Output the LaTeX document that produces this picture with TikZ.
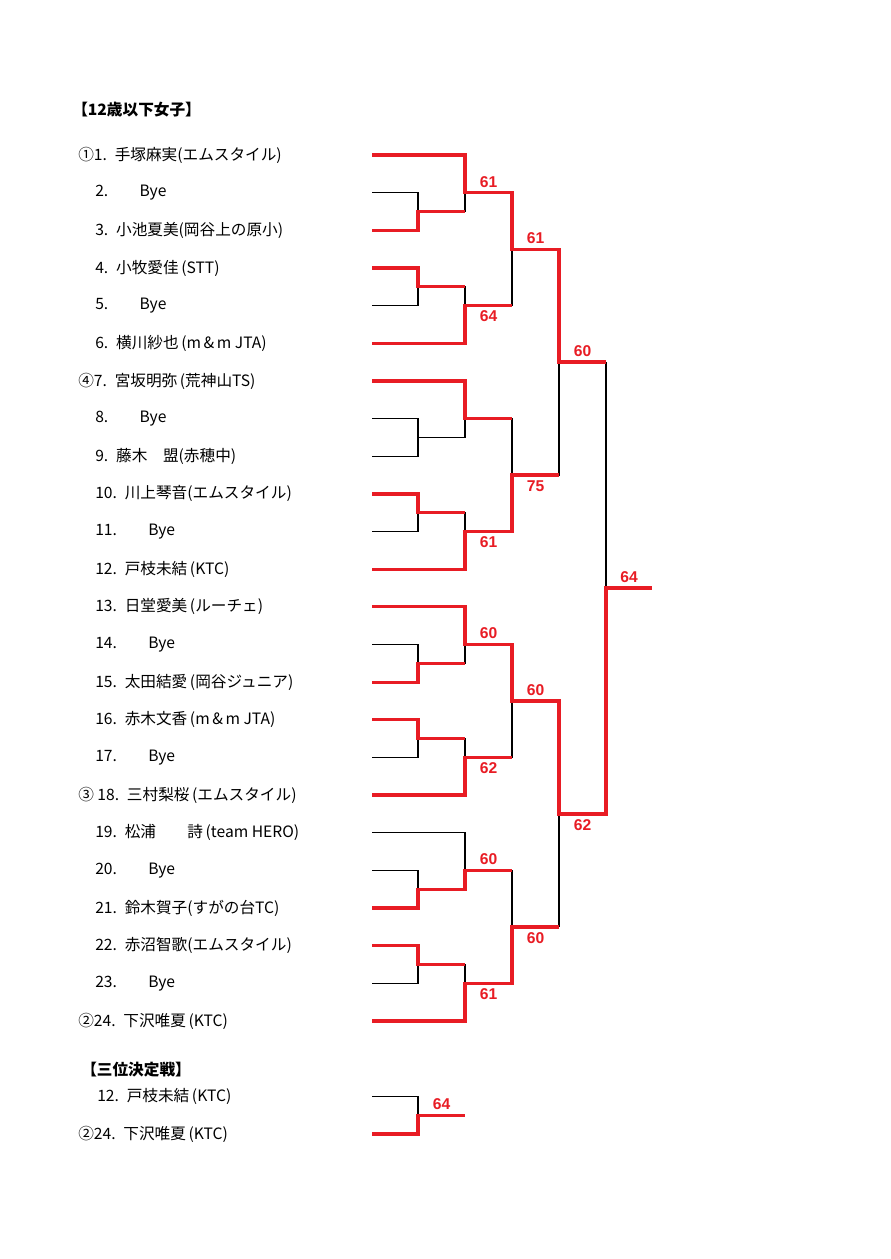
\documentclass[tikz,border=0pt]{standalone}
\usepackage{fontspec}
\setmainfont{Noto Sans CJK JP}
\newfontfamily\scorefont{Liberation Sans}
\usetikzlibrary{calc}
\definecolor{winred}{RGB}{232,28,36}

\begin{document}
\begin{tikzpicture}[
      x=0.23596mm, y=-8.8843mm,
      player/.style={anchor=west, inner sep=0pt, font=\fontsize{10.5}{12}\selectfont},
      heading/.style={anchor=west, inner sep=0pt, font=\fontsize{10.5}{12}\selectfont\bfseries},
      score/.style={inner sep=2.5pt, text=winred, font=\scorefont\fontsize{10.5}{12}\selectfont\bfseries},
      lose/.style={draw=black, line width=0.7pt},
      win/.style={draw=winred, line width=2.2pt}
    ]
    \useasboundingbox (0,-3.1166) rectangle (890,30.3206);

    % titles
    \node[heading] (title) at (72,-0.2) {【12歳以下女子】};
    \node[heading] (third) at (81,25.3) {【三位決定戦】};

    % entries
    \node[player] (n1) at (78,1) {①1.\enspace 手塚麻実(エムスタイル)};
    \node[player] (n2) at (95,2) {2.　　Bye};
    \node[player] (n3) at (95,3) {3.\enspace 小池夏美(岡谷上の原小)};
    \node[player] (n4) at (95,4) {4.\enspace 小牧愛佳\,(STT)};
    \node[player] (n5) at (95,5) {5.　　Bye};
    \node[player] (n6) at (95,6) {6.\enspace 横川紗也\,(m\,\&\,m JTA)};
    \node[player] (n7) at (78,7) {④7.\enspace 宮坂明弥\,(荒神山TS)};
    \node[player] (n8) at (95,8) {8.　　Bye};
    \node[player] (n9) at (95,9) {9.\enspace 藤木　盟(赤穂中)};
    \node[player] (n10) at (95,10) {10.\enspace 川上琴音(エムスタイル)};
    \node[player] (n11) at (95,11) {11.　　Bye};
    \node[player] (n12) at (95,12) {12.\enspace 戸枝未結\,(KTC)};
    \node[player] (n13) at (95,13) {13.\enspace 日堂愛美\,(ルーチェ)};
    \node[player] (n14) at (95,14) {14.　　Bye};
    \node[player] (n15) at (95,15) {15.\enspace 太田結愛\,(岡谷ジュニア)};
    \node[player] (n16) at (95,16) {16.\enspace 赤木文香\,(m\,\&\,m JTA)};
    \node[player] (n17) at (95,17) {17.　　Bye};
    \node[player] (n18) at (78,18) {③ 18.\enspace 三村梨桜\,(エムスタイル)};
    \node[player] (n19) at (95,19) {19.\enspace 松浦　　詩\,(team HERO)};
    \node[player] (n20) at (95,20) {20.　　Bye};
    \node[player] (n21) at (95,21) {21.\enspace 鈴木賀子(すがの台TC)};
    \node[player] (n22) at (95,22) {22.\enspace 赤沼智歌(エムスタイル)};
    \node[player] (n23) at (95,23) {23.　　Bye};
    \node[player] (n24) at (78,24) {②24.\enspace 下沢唯夏\,(KTC)};
    \node[player] (m1) at (97,26) {12.\enspace 戸枝未結\,(KTC)};
    \node[player] (m2) at (78,27) {②24.\enspace 下沢唯夏\,(KTC)};

    % bracket points
    \foreach \i in {1,...,24}
      \coordinate (s\i) at (372,\i);
    \coordinate (a1) at (418,2.5);  \coordinate (a2) at (418,4.5);
    \coordinate (a3) at (418,8.5);  \coordinate (a4) at (418,10.5);
    \coordinate (a5) at (418,14.5); \coordinate (a6) at (418,16.5);
    \coordinate (a7) at (418,20.5); \coordinate (a8) at (418,22.5);
    \coordinate (b1) at (465,2);  \coordinate (b2) at (465,5);
    \coordinate (b3) at (465,8);  \coordinate (b4) at (465,11);
    \coordinate (b5) at (465,14); \coordinate (b6) at (465,17);
    \coordinate (b7) at (465,20); \coordinate (b8) at (465,23);
    \coordinate (c1) at (512,3.5);  \coordinate (c2) at (512,9.5);
    \coordinate (c3) at (512,15.5); \coordinate (c4) at (512,21.5);
    \coordinate (d1) at (559,6.5); \coordinate (d2) at (559,18.5);
    \coordinate (e1) at (606,12.5);
    \coordinate (champ) at (652,12.5);
    \coordinate (t1) at (372,26); \coordinate (t2) at (372,27);
    \coordinate (tp) at (418,26.5); \coordinate (tq) at (465,26.5);

    % plain bracket
    \foreach \from/\to in {s2/a1, s3/a1, s4/a2, s5/a2, s8/a3, s9/a3, s10/a4, s11/a4,
        s14/a5, s15/a5, s16/a6, s17/a6, s20/a7, s21/a7, s22/a8, s23/a8,
        s1/b1, a1/b1, a2/b2, s6/b2, s7/b3, a3/b3, a4/b4, s12/b4,
        s13/b5, a5/b5, a6/b6, s18/b6, s19/b7, a7/b7, a8/b8, s24/b8,
        b1/c1, b2/c1, b3/c2, b4/c2, b5/c3, b6/c3, b7/c4, b8/c4,
        c1/d1, c2/d1, c3/d2, c4/d2, d1/e1, d2/e1, t1/tp, t2/tp}
      \draw[lose] (\from) -| (\to);
    \draw[lose] (e1) -- (champ);
    \draw[lose] (tp) -- (tq);

    % winners
    \draw[win] (s1) -| (b1) -| node[score, above, pos=.25] (r1) {61} (c1)
      -| node[score, above, pos=.25] (r2) {61} (d1)
      -- node[score, above] (r3) {60} (d1 -| e1);
    \draw[win] (s3) -| (a1) -- (a1 -| b1);
    \draw[win] (s4) -| (a2) -- (a2 -| b2);
    \draw[win] (s6) -| (b2) -- node[score, below] (r4) {64} (b2 -| c1);
    \draw[win] (s7) -| (b3) -- (b3 -| c2);
    \draw[win] (s10) -| (a4) -- (a4 -| b4);
    \draw[win] (s12) -| (b4) -| node[score, below, pos=.25] (r5) {61} (c2)
      -- node[score, below] (r6) {75} (c2 -| d1);
    \draw[win] (s13) -| (b5) -| node[score, above, pos=.25] (r7) {60} (c3)
      -| node[score, above, pos=.25] (r8) {60} (d2)
      -| node[score, below, pos=.25] (r9) {62} (e1)
      -- node[score, above] (r10) {64} (champ);
    \draw[win] (s15) -| (a5) -- (a5 -| b5);
    \draw[win] (s16) -| (a6) -- (a6 -| b6);
    \draw[win] (s18) -| (b6) -- node[score, below] (r11) {62} (b6 -| c3);
    \draw[win] (s21) -| (a7) -| (b7) -- node[score, above] (r12) {60} (b7 -| c4);
    \draw[win] (s22) -| (a8) -- (a8 -| b8);
    \draw[win] (s24) -| (b8) -| node[score, below, pos=.25] (r13) {61} (c4)
      -- node[score, below] (r14) {60} (c4 -| d2);
    \draw[win] (t2) -| (tp) -- node[score, above] (r15) {64} (tq);
  \end{tikzpicture}
\end{document}
